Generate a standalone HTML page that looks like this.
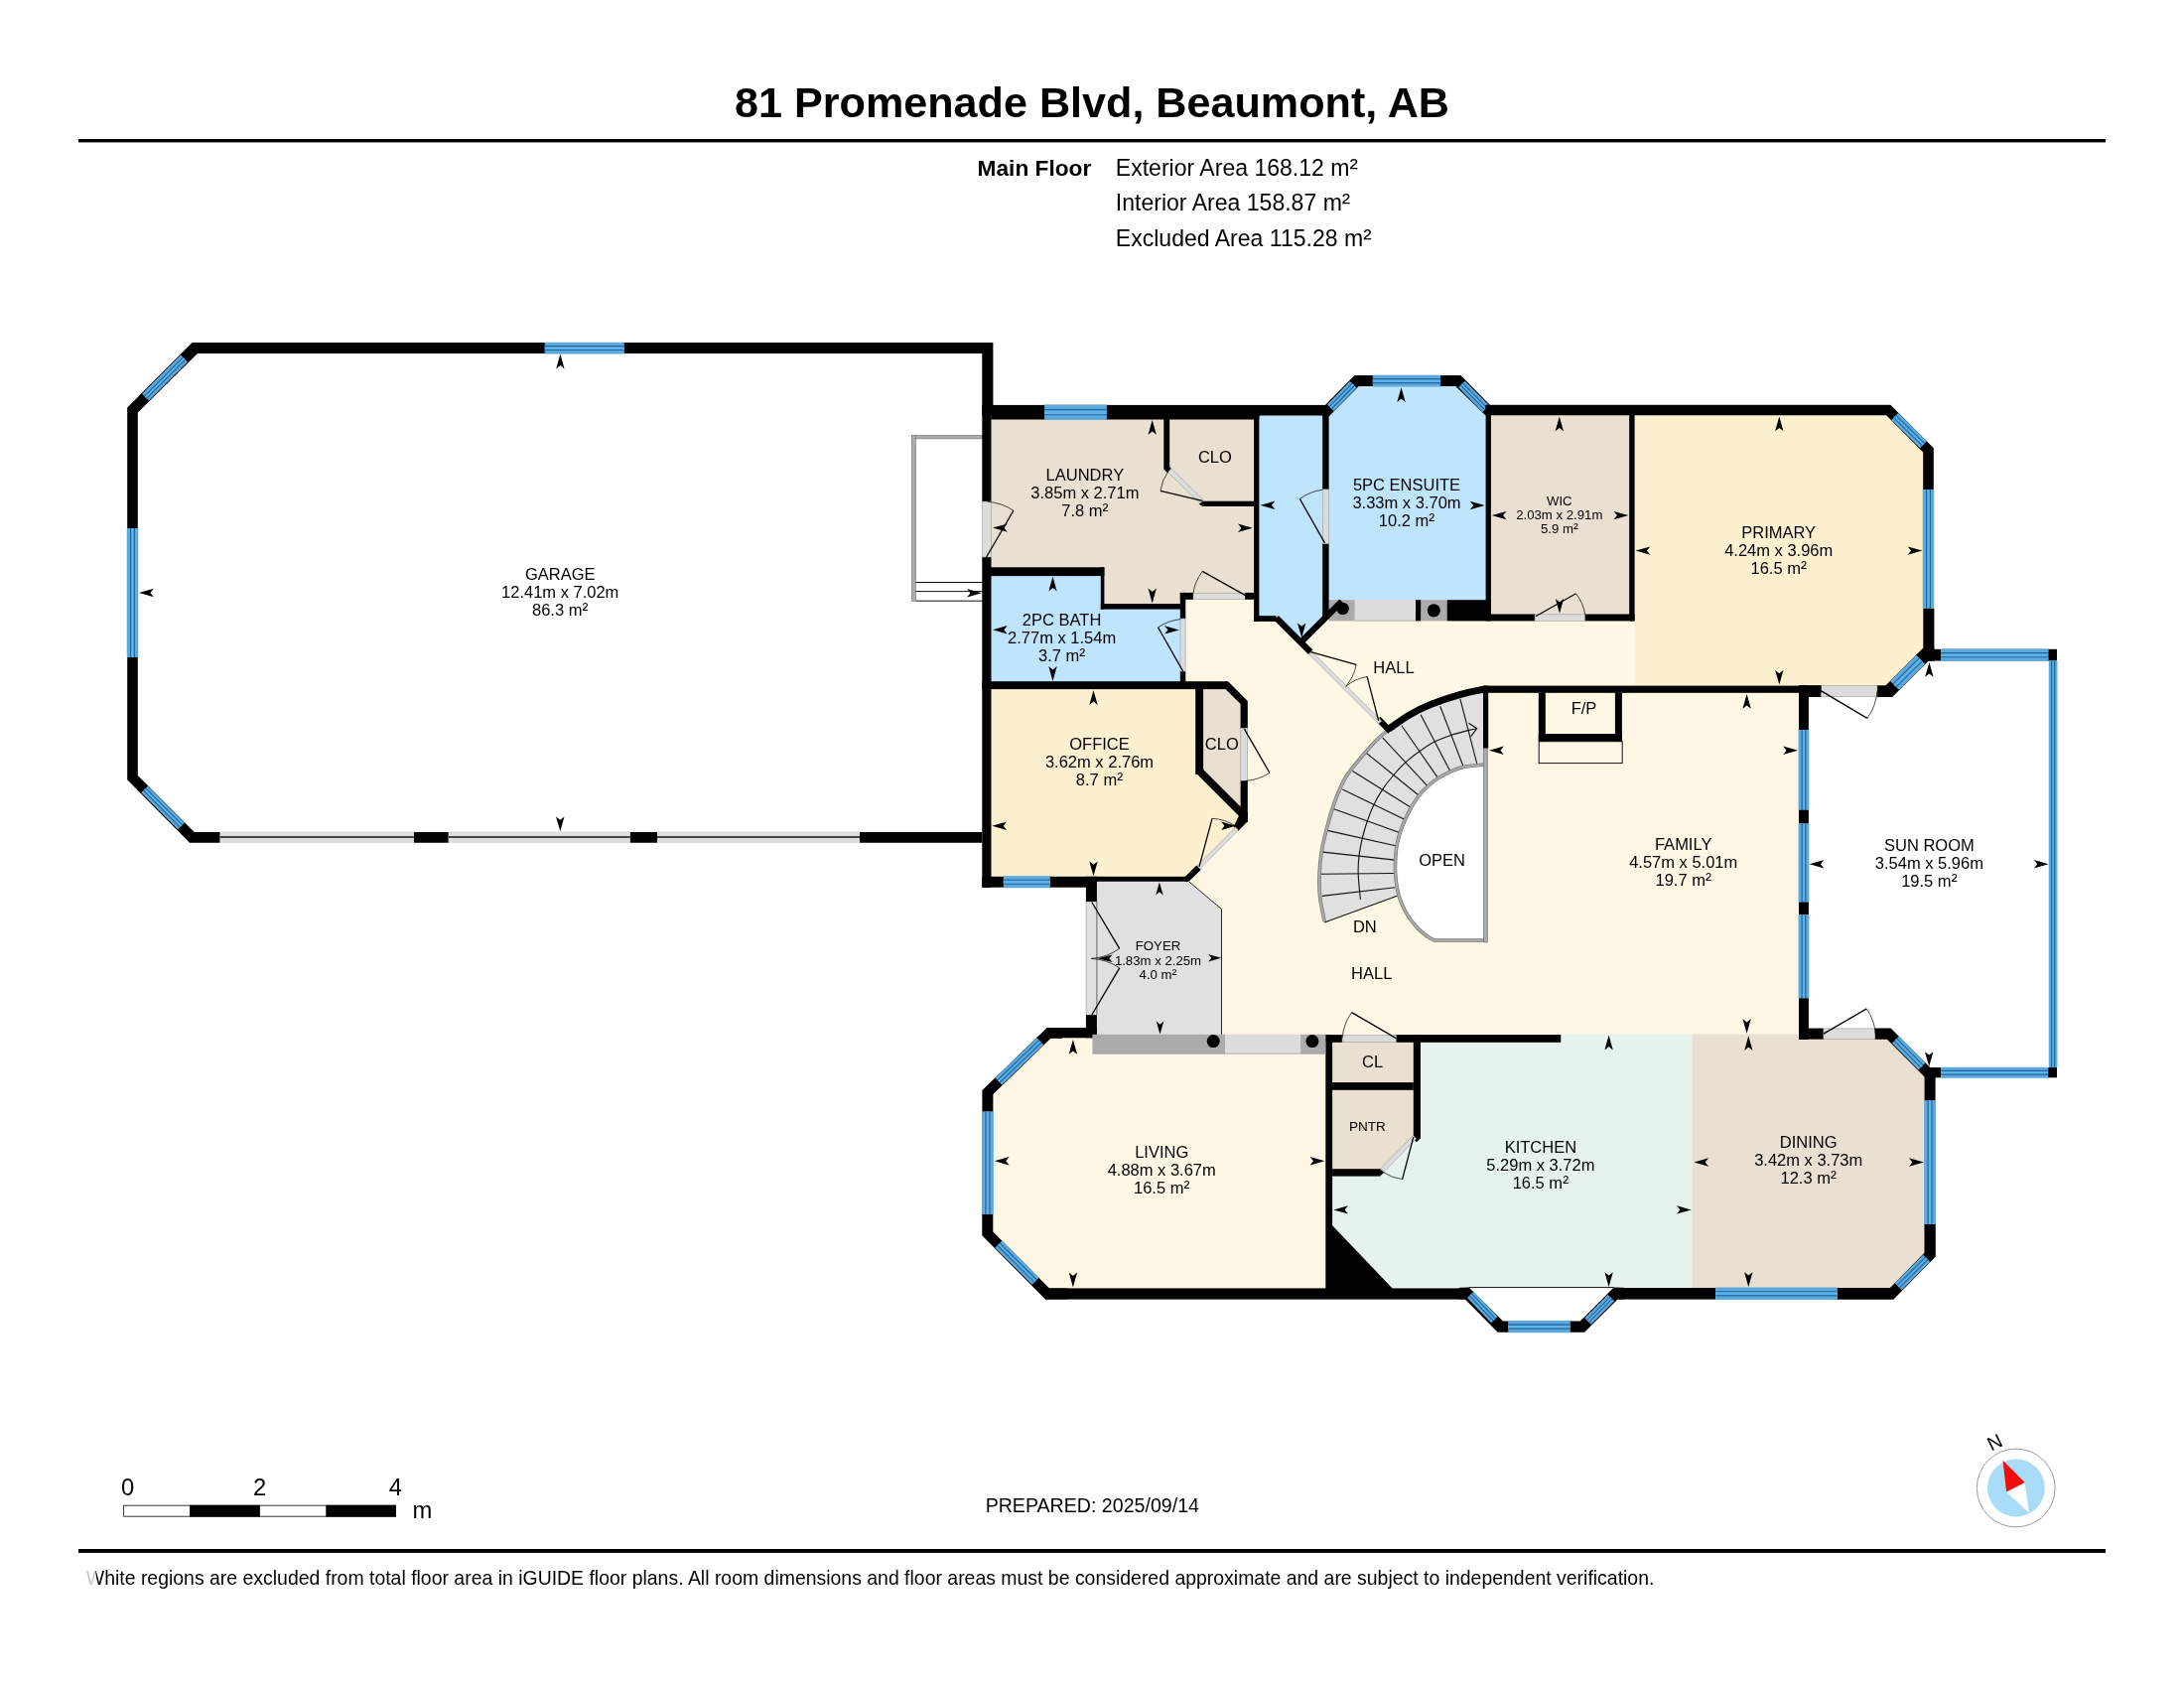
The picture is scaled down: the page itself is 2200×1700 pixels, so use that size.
<!DOCTYPE html>
<html lang="en">
<head>
<meta charset="utf-8">
<title>81 Promenade Blvd, Beaumont, AB - Main Floor</title>
<style>
html,body{margin:0;padding:0;background:#fff;}
body{width:2200px;height:1700px;overflow:hidden;font-family:"Liberation Sans",sans-serif;}
svg{display:block;position:absolute;left:0;top:0;will-change:transform;opacity:0.9999;}
svg text{font-family:"Liberation Sans",sans-serif;fill:#000;}
</style>
</head>
<body>
<svg width="2200" height="1700" viewBox="0 0 2200 1700">
<g id="header">
<text x="1100" y="117.9" font-size="43.15" text-anchor="middle" font-weight="bold">81 Promenade Blvd, Beaumont, AB</text>
<rect x="79" y="140" width="2042" height="3.4" fill="#000"/>
<text x="1099.3" y="176.6" font-size="22.7" text-anchor="end" font-weight="bold">Main Floor</text>
<text x="1123.8" y="176.6" font-size="23.05" text-anchor="start">Exterior Area 168.12 m<tspan font-size="109%">²</tspan></text>
<text x="1123.8" y="212" font-size="23.05" text-anchor="start">Interior Area 158.87 m<tspan font-size="109%">²</tspan></text>
<text x="1123.8" y="247.5" font-size="23.05" text-anchor="start">Excluded Area 115.28 m<tspan font-size="109%">²</tspan></text>
</g>
<g id="footer">
<rect x="79" y="1560" width="2042" height="3.9" fill="#000"/>
<text x="86.8" y="1595.5" font-size="19.46" text-anchor="start">White regions are excluded from total floor area in iGUIDE floor plans. All room dimensions and floor areas must be considered approximate and are subject to independent verification.</text>
<rect x="85" y="1578" width="11.5" height="20" fill="#fff" opacity="0.78"/>
<text x="1100.3" y="1523.2" font-size="19.6" text-anchor="middle">PREPARED: 2025/09/14</text>
<rect x="124.6" y="1516.2" width="273.9" height="11" fill="#fff" stroke="#222" stroke-width="0.9"/>
<rect x="191.1" y="1515.8" width="70.8" height="11.8" fill="#000"/>
<rect x="328.3" y="1515.8" width="70.6" height="11.8" fill="#000"/>
<text x="128.6" y="1505.5" font-size="23.8" text-anchor="middle">0</text>
<text x="261.5" y="1505.5" font-size="23.8" text-anchor="middle">2</text>
<text x="398.3" y="1505.5" font-size="23.8" text-anchor="middle">4</text>
<text x="425.5" y="1528.6" font-size="23.8" text-anchor="middle">m</text>
<circle cx="2030.75" cy="1498.5" r="39.4" fill="#fff" stroke="#9a9a9a" stroke-width="1"/>
<circle cx="2030.9" cy="1498.5" r="29" fill="#a9dcf9"/>
<polygon points="2021.1,1502.6 2039.6,1493 2043.9,1523.5" fill="#fff"/>
<polygon points="2017.5,1470.7 2039.6,1493 2021.1,1502.6" fill="#f20d0d"/>
<text x="0" y="0" font-size="19.5" text-anchor="middle" transform="translate(2012.3 1458.6) rotate(-26)">N</text>
</g>
<g id="fills">
<polygon points="1191.5,600 1646.6,600 1646.6,694 1816.5,694 1816.5,1041.5 1338.7,1041.5 1338.7,1303 1055,1303 995,1243 995,1099 1055,1040.5 1110,1040.5 1110,890 1197,886 1253,830 1253,707 1238.5,690 1191.5,690" fill="#fdf7e4"/>
<polygon points="994,413 1266,413 1266,601 1191,601 1191,611 1110.5,611 1110.5,576 994,576" fill="#e9e0d1"/>
<polygon points="994,576 1110.5,576 1110.5,611 1191.5,611 1191.5,690 994,690" fill="#bfe4fd"/>
<polygon points="1266,413 1335.5,413 1335.5,621 1310.5,647 1286,623 1266,623" fill="#bfe4fd"/>
<polygon points="1335.5,418.5 1366.5,384 1470,384 1499,413 1499,615 1335.5,615 1335.5,621 1330,621" fill="#bfe4fd"/>
<rect x="1499" y="413" width="145" height="209" fill="#e9e0d1"/>
<polygon points="1644,413 1902,413 1942.5,453.5 1942.5,659 1903,696 1646.6,696 1646.6,622 1644,622" fill="#fdf0d1"/>
<polygon points="994,690 1208,690 1208,779.5 1253,824.5 1253,830 1197,886 994,888" fill="#fdf0d1"/>
<polygon points="1208,690 1236,690 1253,707 1253,822 1208,777" fill="#e9e0d1"/>
<polygon points="1094,888 1197.6,887.8 1230.5,915.6 1230.5,1042 1094,1042" fill="#e0e0e0"/>
<polygon points="1427,1046 1572.3,1046 1572.3,1041.5 1704.5,1041.5 1704.5,1296.6 1400,1296.6 1339,1240 1339,1181 1392,1181 1427,1146" fill="#e6f3ec"/>
<polygon points="1704.5,1041.5 1816.5,1041.5 1903,1041.5 1944.5,1082 1944.5,1265 1906,1303 1704.5,1303" fill="#e9e0d1"/>
<rect x="1339" y="1046" width="88" height="48" fill="#e9e0d1"/>
<polygon points="1339,1094 1427,1094 1427,1146 1392,1181 1339,1181" fill="#e9e0d1"/>
</g>
<g id="stairs">
<path d="M1494.8 694.2 C1490.58 695.15 1478.45 697.33 1469.5 699.9 C1460.55 702.47 1449.38 706.25 1441.1 709.6 C1432.82 712.95 1426.83 715.9 1419.8 720 C1412.77 724.1 1404.78 729.62 1398.9 734.2 C1393.02 738.78 1389.2 742.67 1384.5 747.5 C1379.8 752.33 1375.23 757.78 1370.7 763.2 C1366.17 768.62 1360.7 775.02 1357.3 780 C1353.9 784.98 1352.65 787.9 1350.3 793.1 C1347.95 798.3 1345.47 804.48 1343.2 811.2 C1340.93 817.92 1338.7 825.67 1336.7 833.4 C1334.7 841.13 1332.47 849.72 1331.2 857.6 C1329.93 865.48 1329.37 873.15 1329.1 880.7 C1328.83 888.25 1328.75 895 1329.6 902.9 C1330.45 910.8 1333.43 923.9 1334.2 928.1 L1407.4 902 L1407.6 895.8 C1407.27 893.08 1405.93 884.37 1405.6 879.5 C1405.27 874.63 1405.33 871.43 1405.6 866.6 C1405.87 861.77 1406.18 855.87 1407.2 850.5 C1408.22 845.13 1409.77 839.77 1411.7 834.4 C1413.63 829.03 1416.1 823.5 1418.8 818.3 C1421.5 813.1 1424.72 807.53 1427.9 803.2 C1431.08 798.87 1434.52 795.48 1437.9 792.3 C1441.28 789.12 1444.42 786.58 1448.2 784.1 C1451.98 781.62 1456.33 779.35 1460.6 777.4 C1464.87 775.45 1468.07 773.62 1473.8 772.4 C1479.53 771.18 1491.47 770.48 1495 770.1 L1496 770 L1496 694 Z" fill="#e0e0e0" stroke="none" stroke-width="0"/>
<path d="M1495 770.1 C1491.47 770.48 1479.53 771.18 1473.8 772.4 C1468.07 773.62 1464.87 775.45 1460.6 777.4 C1456.33 779.35 1451.98 781.62 1448.2 784.1 C1444.42 786.58 1441.28 789.12 1437.9 792.3 C1434.52 795.48 1431.08 798.87 1427.9 803.2 C1424.72 807.53 1421.5 813.1 1418.8 818.3 C1416.1 823.5 1413.63 829.03 1411.7 834.4 C1409.77 839.77 1408.22 845.13 1407.2 850.5 C1406.18 855.87 1405.87 861.77 1405.6 866.6 C1405.33 871.43 1405.27 874.63 1405.6 879.5 C1405.93 884.37 1406.62 890.9 1407.6 895.8 C1408.58 900.7 1409.77 904.55 1411.5 908.9 C1413.23 913.25 1415.5 917.88 1418 921.9 C1420.5 925.92 1423.57 929.73 1426.5 933 C1429.43 936.27 1432.57 939.17 1435.6 941.5 C1438.63 943.83 1443.18 946.08 1444.7 947 L1496.4 947 L1496.4 770 Z" fill="#fff" stroke="none" stroke-width="0"/>
<line x1="1331.7" y1="902.4" x2="1405.2" y2="893.8" stroke="#111" stroke-width="1.1"/>
<line x1="1330.7" y1="880.2" x2="1404.7" y2="879.5" stroke="#111" stroke-width="1.1"/>
<line x1="1332.7" y1="858.1" x2="1405.2" y2="866.1" stroke="#111" stroke-width="1.1"/>
<line x1="1337.2" y1="836.4" x2="1406.7" y2="852" stroke="#111" stroke-width="1.1"/>
<line x1="1343.7" y1="814.8" x2="1409.7" y2="838.4" stroke="#111" stroke-width="1.1"/>
<line x1="1352.3" y1="795.1" x2="1414.8" y2="825.3" stroke="#111" stroke-width="1.1"/>
<line x1="1362.5" y1="776.5" x2="1421.3" y2="813.2" stroke="#111" stroke-width="1.1"/>
<line x1="1376.5" y1="758.5" x2="1429.4" y2="801.2" stroke="#111" stroke-width="1.1"/>
<line x1="1392.7" y1="742.9" x2="1437.9" y2="791.6" stroke="#111" stroke-width="1.1"/>
<line x1="1411.9" y1="730.8" x2="1448.2" y2="783.1" stroke="#111" stroke-width="1.1"/>
<line x1="1431.1" y1="719.8" x2="1460.6" y2="776.3" stroke="#111" stroke-width="1.1"/>
<line x1="1450.7" y1="711.3" x2="1473.8" y2="771.3" stroke="#111" stroke-width="1.1"/>
<line x1="1470.9" y1="703.8" x2="1487.7" y2="768.9" stroke="#111" stroke-width="1.1"/>
<path d="M1370.4 905.9 C1370.03 901.7 1368.45 887.92 1368.2 880.7 C1367.95 873.48 1368.18 868.8 1368.9 862.6 C1369.62 856.4 1371.07 849.55 1372.5 843.5 C1373.93 837.45 1375.58 831.85 1377.5 826.3 C1379.42 820.75 1381.48 815.4 1384 810.2 C1386.52 805 1389.37 799.97 1392.6 795.1 C1395.83 790.23 1399.58 785.48 1403.4 781 C1407.22 776.52 1411.12 772.23 1415.5 768.2 C1419.88 764.17 1424.72 760.37 1429.7 756.8 C1434.68 753.23 1440.07 749.53 1445.4 746.8 C1450.73 744.07 1456.02 742.3 1461.7 740.4 C1467.38 738.5 1475.17 736.52 1479.5 735.4 C1483.83 734.28 1486.33 733.98 1487.7 733.7" fill="none" stroke="#111" stroke-width="1.1"/>
<path d="M1479.5 728.3 L1487.7 733.7 L1481.6 741.8" fill="none" stroke="#111" stroke-width="1.1"/>
<path d="M1398.9 734.2 C1396.5 736.42 1389.2 742.67 1384.5 747.5 C1379.8 752.33 1375.23 757.78 1370.7 763.2 C1366.17 768.62 1360.7 775.02 1357.3 780 C1353.9 784.98 1352.65 787.9 1350.3 793.1 C1347.95 798.3 1345.47 804.48 1343.2 811.2 C1340.93 817.92 1338.7 825.67 1336.7 833.4 C1334.7 841.13 1332.47 849.72 1331.2 857.6 C1329.93 865.48 1329.37 873.15 1329.1 880.7 C1328.83 888.25 1328.75 895 1329.6 902.9 C1330.45 910.8 1333.43 923.9 1334.2 928.1" fill="none" stroke="#6e6e6e" stroke-width="3.6"/>
<path d="M1398.9 734.2 C1396.5 736.42 1389.2 742.67 1384.5 747.5 C1379.8 752.33 1375.23 757.78 1370.7 763.2 C1366.17 768.62 1360.7 775.02 1357.3 780 C1353.9 784.98 1352.65 787.9 1350.3 793.1 C1347.95 798.3 1345.47 804.48 1343.2 811.2 C1340.93 817.92 1338.7 825.67 1336.7 833.4 C1334.7 841.13 1332.47 849.72 1331.2 857.6 C1329.93 865.48 1329.37 873.15 1329.1 880.7 C1328.83 888.25 1328.75 895 1329.6 902.9 C1330.45 910.8 1333.43 923.9 1334.2 928.1" fill="none" stroke="#a9a9a7" stroke-width="2.4"/>
<path d="M1495 770.1 C1491.47 770.48 1479.53 771.18 1473.8 772.4 C1468.07 773.62 1464.87 775.45 1460.6 777.4 C1456.33 779.35 1451.98 781.62 1448.2 784.1 C1444.42 786.58 1441.28 789.12 1437.9 792.3 C1434.52 795.48 1431.08 798.87 1427.9 803.2 C1424.72 807.53 1421.5 813.1 1418.8 818.3 C1416.1 823.5 1413.63 829.03 1411.7 834.4 C1409.77 839.77 1408.22 845.13 1407.2 850.5 C1406.18 855.87 1405.87 861.77 1405.6 866.6 C1405.33 871.43 1405.27 874.63 1405.6 879.5 C1405.93 884.37 1406.62 890.9 1407.6 895.8 C1408.58 900.7 1409.77 904.55 1411.5 908.9 C1413.23 913.25 1415.5 917.88 1418 921.9 C1420.5 925.92 1423.57 929.73 1426.5 933 C1429.43 936.27 1432.57 939.17 1435.6 941.5 C1438.63 943.83 1443.18 946.08 1444.7 947 L1496.4 947" fill="none" stroke="#6e6e6e" stroke-width="3.6"/>
<path d="M1495 770.1 C1491.47 770.48 1479.53 771.18 1473.8 772.4 C1468.07 773.62 1464.87 775.45 1460.6 777.4 C1456.33 779.35 1451.98 781.62 1448.2 784.1 C1444.42 786.58 1441.28 789.12 1437.9 792.3 C1434.52 795.48 1431.08 798.87 1427.9 803.2 C1424.72 807.53 1421.5 813.1 1418.8 818.3 C1416.1 823.5 1413.63 829.03 1411.7 834.4 C1409.77 839.77 1408.22 845.13 1407.2 850.5 C1406.18 855.87 1405.87 861.77 1405.6 866.6 C1405.33 871.43 1405.27 874.63 1405.6 879.5 C1405.93 884.37 1406.62 890.9 1407.6 895.8 C1408.58 900.7 1409.77 904.55 1411.5 908.9 C1413.23 913.25 1415.5 917.88 1418 921.9 C1420.5 925.92 1423.57 929.73 1426.5 933 C1429.43 936.27 1432.57 939.17 1435.6 941.5 C1438.63 943.83 1443.18 946.08 1444.7 947 L1496.4 947" fill="none" stroke="#a9a9a7" stroke-width="2.4"/>
<line x1="1334.2" y1="929.1" x2="1407.4" y2="902.2" stroke="#111" stroke-width="1.1"/>
<rect x="1494.4" y="753" width="4" height="196" fill="#a9a9a7" stroke="#6e6e6e" stroke-width="0.6"/>
<path d="M1494.8 694.2 C1490.58 695.15 1478.45 697.33 1469.5 699.9 C1460.55 702.47 1449.38 706.25 1441.1 709.6 C1432.82 712.95 1426.83 715.9 1419.8 720 C1412.77 724.1 1402.38 731.83 1398.9 734.2" fill="none" stroke="#000" stroke-width="7"/>
<polygon points="1385.96,725.95 1398.26,738.75 1402.74,734.45 1390.44,721.65" fill="#000"/>
</g>
<g id="garage">
<rect x="918.4" y="438.4" width="71.1" height="3.5" fill="#ababab" stroke="#777" stroke-width="0.6"/>
<rect x="918.4" y="438.4" width="4.1" height="167.1" fill="#ababab" stroke="#777" stroke-width="0.6"/>
<line x1="922.5" y1="586.5" x2="989.5" y2="586.5" stroke="#111" stroke-width="1"/>
<line x1="922.5" y1="595.6" x2="989.5" y2="595.6" stroke="#111" stroke-width="1"/>
<line x1="922.5" y1="605.2" x2="989.5" y2="605.2" stroke="#111" stroke-width="1"/>
<polygon points="193.5,345.1 1000.4,345.1 1000.4,408.1 989.3,408.1 989.3,356 199,356 138.8,415.5 138.8,780.9 195.7,837.9 989.3,837.9 989.3,848.8 191,848.8 128.2,785.3 128.2,410.6" fill="#000"/>
<polygon points="548.7,356.45 628.8,356.45 628.8,344.65 548.7,344.65" fill="#5ea9dc"/>
<polygon points="548.7,352.52 628.8,352.52 628.8,348.58 548.7,348.58" fill="#5fb1e8"/>
<line x1="548.7" y1="348.58" x2="628.8" y2="348.58" stroke="#1c659e" stroke-width="1.15"/>
<line x1="548.7" y1="352.52" x2="628.8" y2="352.52" stroke="#1c659e" stroke-width="1.15"/>
<polygon points="127.75,532 127.75,662 139.25,662 139.25,532" fill="#5ea9dc"/>
<polygon points="131.58,532 131.58,662 135.42,662 135.42,532" fill="#5fb1e8"/>
<line x1="135.42" y1="532" x2="135.42" y2="662" stroke="#1c659e" stroke-width="1.15"/>
<line x1="131.58" y1="532" x2="131.58" y2="662" stroke="#1c659e" stroke-width="1.15"/>
<polygon points="182.1,357.61 143.1,396.81 149.9,403.59 188.9,364.39" fill="#5ea9dc"/>
<polygon points="184.37,359.87 145.37,399.07 147.63,401.33 186.63,362.13" fill="#5fb1e8"/>
<line x1="186.63" y1="362.13" x2="147.63" y2="401.33" stroke="#1c659e" stroke-width="1.15"/>
<line x1="184.37" y1="359.87" x2="145.37" y2="399.07" stroke="#1c659e" stroke-width="1.15"/>
<polygon points="142.37,798.32 179.22,835.32 185.88,828.68 149.03,791.68" fill="#5ea9dc"/>
<polygon points="144.59,796.11 181.44,833.11 183.66,830.89 146.81,793.89" fill="#5fb1e8"/>
<line x1="146.81" y1="793.89" x2="183.66" y2="830.89" stroke="#1c659e" stroke-width="1.15"/>
<line x1="144.59" y1="796.11" x2="181.44" y2="833.11" stroke="#1c659e" stroke-width="1.15"/>
<rect x="221.7" y="837" width="195.2" height="12.2" fill="#fff"/>
<rect x="221.7" y="837.4" width="195.2" height="11.6" fill="#dedede"/>
<line x1="221.7" y1="843" x2="416.9" y2="843" stroke="#111" stroke-width="1.7"/>
<rect x="451.8" y="837" width="182.8" height="12.2" fill="#fff"/>
<rect x="451.8" y="837.4" width="182.8" height="11.6" fill="#dedede"/>
<line x1="451.8" y1="843" x2="634.6" y2="843" stroke="#111" stroke-width="1.7"/>
<rect x="662" y="837" width="204" height="12.2" fill="#fff"/>
<rect x="662" y="837.4" width="204" height="11.6" fill="#dedede"/>
<line x1="662" y1="843" x2="866" y2="843" stroke="#111" stroke-width="1.7"/>
</g>
<g id="walls">
<rect x="989.3" y="408.1" width="9.2" height="97" fill="#000"/>
<rect x="989.3" y="561" width="9.2" height="333" fill="#000"/>
<rect x="989.5" y="505.1" width="8.8" height="55.9" fill="#dcdcdc" stroke="#9a9a9a" stroke-width="0.6"/>
<rect x="989.3" y="407.9" width="349.3" height="10.6" fill="#000"/>
<rect x="998.3" y="412" width="270.1" height="10.5" fill="#000"/>
<polygon points="1052.1,422.95 1114.9,422.95 1114.9,407.45 1052.1,407.45" fill="#5ea9dc"/>
<polygon points="1052.1,417.78 1114.9,417.78 1114.9,412.62 1052.1,412.62" fill="#5fb1e8"/>
<line x1="1052.1" y1="412.62" x2="1114.9" y2="412.62" stroke="#1c659e" stroke-width="1.15"/>
<line x1="1052.1" y1="417.78" x2="1114.9" y2="417.78" stroke="#1c659e" stroke-width="1.15"/>
<rect x="1172.3" y="422" width="5.9" height="48.5" fill="#000"/>
<polygon points="1172.3,470 1178.2,470 1180.2,472.2 1176.2,476.2 1172.3,472.6" fill="#000"/>
<rect x="1211.2" y="504.7" width="52" height="5.3" fill="#000"/>
<polygon points="1211.4,504.7 1207.6,507.4 1211.4,510" fill="#000"/>
<polygon points="1176.45,475.38 1208.65,506.98 1212.15,503.42 1179.95,471.82" fill="#dcdcdc" stroke="#9a9a9a" stroke-width="0.6"/>
<rect x="1338.6" y="604.2" width="26.2" height="21.2" fill="#ababab"/>
<rect x="1364.8" y="604.2" width="61.2" height="21.2" fill="#dcdcdc"/>
<line x1="1364.8" y1="625.1" x2="1426" y2="625.1" stroke="#9a9a9a" stroke-width="0.7"/>
<rect x="1426" y="604.2" width="5.5" height="21.2" fill="#000"/>
<rect x="1431.5" y="604.2" width="26.2" height="21.2" fill="#ababab"/>
<rect x="1457.7" y="604.2" width="44.2" height="21.2" fill="#000"/>
<circle cx="1352.6" cy="613" r="6.2" fill="#000"/>
<circle cx="1444.3" cy="614.8" r="6.6" fill="#000"/>
<rect x="1263.1" y="418" width="5.3" height="207.9" fill="#000"/>
<rect x="1263.1" y="620.2" width="22.4" height="5.7" fill="#000"/>
<polygon points="1283.34,624.46 1317.94,659.06 1322.46,654.54 1287.86,619.94" fill="#000"/>
<polygon points="1349.34,603.39 1307.94,644.79 1312.46,649.31 1353.86,607.91" fill="#000"/>
<rect x="1332.2" y="418" width="6.4" height="74.9" fill="#000"/>
<rect x="1332.2" y="547.4" width="6.4" height="74.6" fill="#000"/>
<rect x="1332.4" y="492.9" width="6" height="54.5" fill="#dcdcdc" stroke="#9a9a9a" stroke-width="0.6"/>
<rect x="1188.8" y="596.9" width="13.2" height="6.9" fill="#000"/>
<rect x="1202" y="597.2" width="52.2" height="6.4" fill="#dcdcdc" stroke="#9a9a9a" stroke-width="0.6"/>
<rect x="1254.2" y="596.9" width="9.3" height="6.9" fill="#000"/>
<rect x="1188.8" y="596.9" width="5.5" height="26.1" fill="#000"/>
<rect x="1189" y="623" width="5.1" height="53.3" fill="#dcdcdc" stroke="#9a9a9a" stroke-width="0.6"/>
<rect x="1188.8" y="676.3" width="5.5" height="10.7" fill="#000"/>
<rect x="998" y="571.3" width="114.4" height="8.8" fill="#000"/>
<rect x="1108.8" y="571.3" width="3.6" height="42.3" fill="#000"/>
<rect x="1108.8" y="608.1" width="80.7" height="5.5" fill="#000"/>
<rect x="989.3" y="686.2" width="246.7" height="7.9" fill="#000"/>
<polygon points="1234.5,686.2 1237.1,686.2 1256.8,706 1256.8,733.5 1249.6,733.5 1249.6,708.9 1234.5,694.1" fill="#000"/>
<rect x="1249.8" y="733.5" width="6.8" height="52.9" fill="#dcdcdc" stroke="#9a9a9a" stroke-width="0.6"/>
<rect x="1249.6" y="786.4" width="7.2" height="40.8" fill="#000"/>
<polygon points="1249.6,818 1256.8,818 1256.8,827.2 1247.2,837 1242.8,832.6" fill="#000"/>
<rect x="1204.2" y="694" width="7.9" height="86" fill="#000"/>
<polygon points="1205.44,779.26 1250.44,824.26 1255.96,818.74 1210.96,773.74" fill="#000"/>
<polygon points="1244.51,833.02 1205.51,872.32 1208.49,875.28 1247.49,835.98" fill="#dcdcdc" stroke="#9a9a9a" stroke-width="0.6"/>
<polygon points="1194,882.8 1205.3,871.6 1209.6,875.9 1197.6,887.8 1194,887.8" fill="#000"/>
<rect x="989.3" y="882.8" width="104.7" height="10.9" fill="#000"/>
<polygon points="1010.8,894.15 1057.8,894.15 1057.8,882.35 1010.8,882.35" fill="#5ea9dc"/>
<polygon points="1010.8,890.22 1057.8,890.22 1057.8,886.28 1010.8,886.28" fill="#5fb1e8"/>
<line x1="1010.8" y1="886.28" x2="1057.8" y2="886.28" stroke="#1c659e" stroke-width="1.15"/>
<line x1="1010.8" y1="890.22" x2="1057.8" y2="890.22" stroke="#1c659e" stroke-width="1.15"/>
<rect x="1093.9" y="882.8" width="102.7" height="5" fill="#000"/>
<rect x="1093.9" y="882.8" width="11" height="25.3" fill="#000"/>
<rect x="1093.9" y="1022.2" width="11" height="23.1" fill="#000"/>
<rect x="1054.2" y="1035" width="50.7" height="10.3" fill="#000"/>
</g>
<g id="walls2">
<polygon points="1334.7,408.3 1364.5,378.1 1471.4,378.1 1501,408 1502,408 1502,418.3 1496.3,418.3 1466.3,389.1 1368.7,389.1 1338.6,419.5 1332.2,418.5" fill="#000"/>
<polygon points="1382.8,389.55 1451.1,389.55 1451.1,377.65 1382.8,377.65" fill="#5ea9dc"/>
<polygon points="1382.8,385.58 1451.1,385.58 1451.1,381.62 1382.8,381.62" fill="#5fb1e8"/>
<line x1="1382.8" y1="381.62" x2="1451.1" y2="381.62" stroke="#1c659e" stroke-width="1.15"/>
<line x1="1382.8" y1="385.58" x2="1451.1" y2="385.58" stroke="#1c659e" stroke-width="1.15"/>
<polygon points="1343.59,413.91 1366.49,390.41 1359.91,383.99 1337.01,407.49" fill="#5ea9dc"/>
<polygon points="1341.4,411.77 1364.3,388.27 1362.1,386.13 1339.2,409.63" fill="#5fb1e8"/>
<line x1="1339.2" y1="409.63" x2="1362.1" y2="386.13" stroke="#1c659e" stroke-width="1.15"/>
<line x1="1341.4" y1="411.77" x2="1364.3" y2="388.27" stroke="#1c659e" stroke-width="1.15"/>
<polygon points="1469.15,390.08 1493.45,414.88 1499.95,408.52 1475.65,383.72" fill="#5ea9dc"/>
<polygon points="1471.32,387.96 1495.62,412.76 1497.78,410.64 1473.48,385.84" fill="#5fb1e8"/>
<line x1="1473.48" y1="385.84" x2="1497.78" y2="410.64" stroke="#1c659e" stroke-width="1.15"/>
<line x1="1471.32" y1="387.96" x2="1495.62" y2="412.76" stroke="#1c659e" stroke-width="1.15"/>
<rect x="1496.6" y="408" width="5.3" height="217.4" fill="#000"/>
<rect x="1501.8" y="618.5" width="44.3" height="6.9" fill="#000"/>
<rect x="1546.1" y="618.8" width="50.6" height="6.4" fill="#dcdcdc" stroke="#9a9a9a" stroke-width="0.6"/>
<rect x="1596.7" y="618.5" width="49.9" height="6.9" fill="#000"/>
<rect x="1641.2" y="418" width="5.4" height="207.4" fill="#000"/>
<polygon points="1496.6,407.8 1904.4,407.8 1947.8,451.2 1947.8,493 1937.2,493 1937.2,455.4 1900.1,418.3 1496.6,418.3" fill="#000"/>
<polygon points="1905.25,422.91 1934.1,451.21 1940.9,444.29 1912.05,415.99" fill="#5ea9dc"/>
<polygon points="1907.52,420.6 1936.37,448.9 1938.63,446.6 1909.78,418.3" fill="#5fb1e8"/>
<line x1="1909.78" y1="418.3" x2="1938.63" y2="446.6" stroke="#1c659e" stroke-width="1.15"/>
<line x1="1907.52" y1="420.6" x2="1936.37" y2="448.9" stroke="#1c659e" stroke-width="1.15"/>
<polygon points="1936.75,493 1936.75,612.8 1948.25,612.8 1948.25,493" fill="#5ea9dc"/>
<polygon points="1940.58,493 1940.58,612.8 1944.42,612.8 1944.42,493" fill="#5fb1e8"/>
<line x1="1944.42" y1="493" x2="1944.42" y2="612.8" stroke="#1c659e" stroke-width="1.15"/>
<line x1="1940.58" y1="493" x2="1940.58" y2="612.8" stroke="#1c659e" stroke-width="1.15"/>
<rect x="1937.3" y="612.8" width="11.1" height="52.7" fill="#000"/>
<polygon points="1937.3,652.4 1948.4,652.4 1948.4,665.5 1942.7,665.5 1906.2,702 1890.9,702 1890.9,690.2 1899.55,690.2" fill="#000"/>
<polygon points="1930.25,659.84 1904.05,685.94 1912.95,694.86 1939.15,668.76" fill="#5ea9dc"/>
<polygon points="1933.22,662.81 1907.02,688.91 1909.98,691.89 1936.18,665.79" fill="#5fb1e8"/>
<line x1="1936.18" y1="665.79" x2="1909.98" y2="691.89" stroke="#1c659e" stroke-width="1.15"/>
<line x1="1933.22" y1="662.81" x2="1907.02" y2="688.91" stroke="#1c659e" stroke-width="1.15"/>
<rect x="1812" y="690.2" width="22.6" height="11.8" fill="#000"/>
<rect x="1834.6" y="690.5" width="56.3" height="11.2" fill="#dcdcdc" stroke="#9a9a9a" stroke-width="0.6"/>
<rect x="1937.3" y="653.8" width="17.8" height="11.7" fill="#000"/>
<polygon points="1955.1,665.95 2063.4,665.95 2063.4,653.35 1955.1,653.35" fill="#5ea9dc"/>
<polygon points="1955.1,661.75 2063.4,661.75 2063.4,657.55 1955.1,657.55" fill="#5fb1e8"/>
<line x1="1955.1" y1="657.55" x2="2063.4" y2="657.55" stroke="#1c659e" stroke-width="1.15"/>
<line x1="1955.1" y1="661.75" x2="2063.4" y2="661.75" stroke="#1c659e" stroke-width="1.15"/>
<rect x="2063.4" y="653.8" width="8.6" height="11.7" fill="#000"/>
<polygon points="2063.75,665.4 2063.75,1075 2072.45,1075 2072.45,665.4" fill="#5ea9dc"/>
<polygon points="2066.65,665.4 2066.65,1075 2069.55,1075 2069.55,665.4" fill="#5fb1e8"/>
<line x1="2069.55" y1="665.4" x2="2069.55" y2="1075" stroke="#1c659e" stroke-width="1.15"/>
<line x1="2066.65" y1="665.4" x2="2066.65" y2="1075" stroke="#1c659e" stroke-width="1.15"/>
<rect x="1938.6" y="1075.1" width="16.5" height="10.2" fill="#000"/>
<polygon points="1955.1,1085.75 2063.2,1085.75 2063.2,1074.65 1955.1,1074.65" fill="#5ea9dc"/>
<polygon points="1955.1,1082.05 2063.2,1082.05 2063.2,1078.35 1955.1,1078.35" fill="#5fb1e8"/>
<line x1="1955.1" y1="1078.35" x2="2063.2" y2="1078.35" stroke="#1c659e" stroke-width="1.15"/>
<line x1="1955.1" y1="1082.05" x2="2063.2" y2="1082.05" stroke="#1c659e" stroke-width="1.15"/>
<rect x="2063.2" y="1075.1" width="8.8" height="10.2" fill="#000"/>
<rect x="1494" y="690.6" width="340.6" height="7.2" fill="#000"/>
<rect x="1812" y="690" width="9.9" height="45" fill="#000"/>
<polygon points="1811.55,735 1811.55,815.7 1822.35,815.7 1822.35,735" fill="#5ea9dc"/>
<polygon points="1815.15,735 1815.15,815.7 1818.75,815.7 1818.75,735" fill="#5fb1e8"/>
<line x1="1818.75" y1="735" x2="1818.75" y2="815.7" stroke="#1c659e" stroke-width="1.15"/>
<line x1="1815.15" y1="735" x2="1815.15" y2="815.7" stroke="#1c659e" stroke-width="1.15"/>
<rect x="1812" y="815.7" width="9.9" height="13.9" fill="#000"/>
<polygon points="1811.55,829.6 1811.55,908.5 1822.35,908.5 1822.35,829.6" fill="#5ea9dc"/>
<polygon points="1815.15,829.6 1815.15,908.5 1818.75,908.5 1818.75,829.6" fill="#5fb1e8"/>
<line x1="1818.75" y1="829.6" x2="1818.75" y2="908.5" stroke="#1c659e" stroke-width="1.15"/>
<line x1="1815.15" y1="829.6" x2="1815.15" y2="908.5" stroke="#1c659e" stroke-width="1.15"/>
<rect x="1812" y="908.5" width="9.9" height="12.8" fill="#000"/>
<polygon points="1811.55,921.3 1811.55,1005.3 1822.35,1005.3 1822.35,921.3" fill="#5ea9dc"/>
<polygon points="1815.15,921.3 1815.15,1005.3 1818.75,1005.3 1818.75,921.3" fill="#5fb1e8"/>
<line x1="1818.75" y1="921.3" x2="1818.75" y2="1005.3" stroke="#1c659e" stroke-width="1.15"/>
<line x1="1815.15" y1="921.3" x2="1815.15" y2="1005.3" stroke="#1c659e" stroke-width="1.15"/>
<rect x="1812" y="1005.3" width="9.9" height="41.5" fill="#000"/>
<rect x="1812" y="1035.55" width="24.9" height="11.1" fill="#000"/>
<rect x="1836.9" y="1035.9" width="52" height="10.5" fill="#dcdcdc" stroke="#9a9a9a" stroke-width="0.6"/>
<polygon points="1888.9,1035.55 1904.65,1035.55 1944.2,1075.1 1949.6,1075.1 1949.6,1108.6 1938.6,1108.6 1938.6,1084.4 1900.9,1046.65 1888.9,1046.65" fill="#000"/>
<polygon points="1906.04,1050.4 1932.54,1077.4 1939.46,1070.6 1912.96,1043.6" fill="#5ea9dc"/>
<polygon points="1908.35,1048.13 1934.85,1075.13 1937.15,1072.87 1910.65,1045.87" fill="#5fb1e8"/>
<line x1="1910.65" y1="1045.87" x2="1937.15" y2="1072.87" stroke="#1c659e" stroke-width="1.15"/>
<line x1="1908.35" y1="1048.13" x2="1934.85" y2="1075.13" stroke="#1c659e" stroke-width="1.15"/>
<polygon points="1938.15,1108.6 1938.15,1232.9 1950.05,1232.9 1950.05,1108.6" fill="#5ea9dc"/>
<polygon points="1942.12,1108.6 1942.12,1232.9 1946.08,1232.9 1946.08,1108.6" fill="#5fb1e8"/>
<line x1="1946.08" y1="1108.6" x2="1946.08" y2="1232.9" stroke="#1c659e" stroke-width="1.15"/>
<line x1="1942.12" y1="1108.6" x2="1942.12" y2="1232.9" stroke="#1c659e" stroke-width="1.15"/>
<polygon points="1938.5,1232.9 1949.8,1232.9 1949.8,1265.5 1907.3,1308.7 1850.5,1308.7 1850.5,1296.9 1904,1296.9 1938.5,1261.7" fill="#000"/>
<polygon points="1937.32,1263.77 1908.77,1292.32 1915.63,1299.18 1944.18,1270.63" fill="#5ea9dc"/>
<polygon points="1939.61,1266.06 1911.06,1294.61 1913.34,1296.89 1941.89,1268.34" fill="#5fb1e8"/>
<line x1="1941.89" y1="1268.34" x2="1913.34" y2="1296.89" stroke="#1c659e" stroke-width="1.15"/>
<line x1="1939.61" y1="1266.06" x2="1911.06" y2="1294.61" stroke="#1c659e" stroke-width="1.15"/>
<rect x="1630" y="1297" width="98.3" height="11.6" fill="#000"/>
<polygon points="1728.3,1309.05 1850.5,1309.05 1850.5,1296.55 1728.3,1296.55" fill="#5ea9dc"/>
<polygon points="1728.3,1304.88 1850.5,1304.88 1850.5,1300.72 1728.3,1300.72" fill="#5fb1e8"/>
<line x1="1728.3" y1="1300.72" x2="1850.5" y2="1300.72" stroke="#1c659e" stroke-width="1.15"/>
<line x1="1728.3" y1="1304.88" x2="1850.5" y2="1304.88" stroke="#1c659e" stroke-width="1.15"/>
<rect x="1053" y="1297.4" width="423" height="11.2" fill="#000"/>
<line x1="1479.6" y1="1296.6" x2="1625.7" y2="1296.6" stroke="#111" stroke-width="1"/>
<polygon points="1470,1296.8 1479.6,1296.6 1513.9,1330.5 1591.8,1330.5 1625.7,1296.6 1636,1296.8 1636,1308.6 1629.6,1308.6 1596.1,1341.8 1508.7,1341.8 1475.7,1308.6 1470,1308.6" fill="#000"/>
<polygon points="1519.2,1342.25 1581.8,1342.25 1581.8,1330.05 1519.2,1330.05" fill="#5ea9dc"/>
<polygon points="1519.2,1338.18 1581.8,1338.18 1581.8,1334.12 1519.2,1334.12" fill="#5fb1e8"/>
<line x1="1519.2" y1="1334.12" x2="1581.8" y2="1334.12" stroke="#1c659e" stroke-width="1.15"/>
<line x1="1519.2" y1="1338.18" x2="1581.8" y2="1338.18" stroke="#1c659e" stroke-width="1.15"/>
<polygon points="1478.04,1307 1502.04,1332.3 1508.56,1326.1 1484.56,1300.8" fill="#5ea9dc"/>
<polygon points="1480.21,1304.93 1504.21,1330.23 1506.39,1328.17 1482.39,1302.87" fill="#5fb1e8"/>
<line x1="1482.39" y1="1302.87" x2="1506.39" y2="1328.17" stroke="#1c659e" stroke-width="1.15"/>
<line x1="1480.21" y1="1304.93" x2="1504.21" y2="1330.23" stroke="#1c659e" stroke-width="1.15"/>
<polygon points="1619.7,1303.93 1596.4,1327.43 1602.8,1333.77 1626.1,1310.27" fill="#5ea9dc"/>
<polygon points="1621.83,1306.04 1598.53,1329.54 1600.67,1331.66 1623.97,1308.16" fill="#5fb1e8"/>
<line x1="1623.97" y1="1308.16" x2="1600.67" y2="1331.66" stroke="#1c659e" stroke-width="1.15"/>
<line x1="1621.83" y1="1306.04" x2="1598.53" y2="1329.54" stroke="#1c659e" stroke-width="1.15"/>
<polygon points="1054.7,1035 1070,1035 1070,1045.8 1058.4,1045.8 1000.4,1102.1 1000.4,1119.8 989.4,1119.8 989.4,1098" fill="#000"/>
<polygon points="1044.44,1045.35 1002.54,1085.5 1009.26,1092.5 1051.16,1052.35" fill="#5ea9dc"/>
<polygon points="1046.68,1047.68 1004.78,1087.83 1007.02,1090.17 1048.92,1050.02" fill="#5fb1e8"/>
<line x1="1048.92" y1="1050.02" x2="1007.02" y2="1090.17" stroke="#1c659e" stroke-width="1.15"/>
<line x1="1046.68" y1="1047.68" x2="1004.78" y2="1087.83" stroke="#1c659e" stroke-width="1.15"/>
<polygon points="988.95,1119.6 988.95,1223 1000.85,1223 1000.85,1119.6" fill="#5ea9dc"/>
<polygon points="992.92,1119.6 992.92,1223 996.88,1223 996.88,1119.6" fill="#5fb1e8"/>
<line x1="996.88" y1="1119.6" x2="996.88" y2="1223" stroke="#1c659e" stroke-width="1.15"/>
<line x1="992.92" y1="1119.6" x2="992.92" y2="1223" stroke="#1c659e" stroke-width="1.15"/>
<polygon points="989.3,1223 1000.3,1223 1000.3,1240.6 1057.1,1297.4 1075,1297.4 1075,1308.6 1053,1308.6 989.3,1244.3" fill="#000"/>
<polygon points="1002.45,1256.58 1039.75,1293.63 1046.65,1286.67 1009.35,1249.62" fill="#5ea9dc"/>
<polygon points="1004.75,1254.26 1042.05,1291.31 1044.35,1288.99 1007.05,1251.94" fill="#5fb1e8"/>
<line x1="1007.05" y1="1251.94" x2="1044.35" y2="1288.99" stroke="#1c659e" stroke-width="1.15"/>
<line x1="1004.75" y1="1254.26" x2="1042.05" y2="1291.31" stroke="#1c659e" stroke-width="1.15"/>
<rect x="1335.3" y="1042.1" width="6.8" height="257.9" fill="#000"/>
<polygon points="1341,1233 1403.5,1298.5 1341,1298.5" fill="#000"/>
<rect x="1335.3" y="1042.1" width="16.8" height="7.7" fill="#000"/>
<rect x="1352.1" y="1042.4" width="54.5" height="7.2" fill="#dcdcdc" stroke="#9a9a9a" stroke-width="0.6"/>
<rect x="1406.6" y="1042.1" width="165.7" height="7.7" fill="#000"/>
<rect x="1342.1" y="1090.1" width="81.7" height="7.7" fill="#000"/>
<rect x="1423.8" y="1042.1" width="7.1" height="102.2" fill="#000"/>
<polygon points="1423.8,1144 1430.9,1144 1430.9,1146.3 1427,1150.3 1422.3,1145.8" fill="#000"/>
<rect x="1342.1" y="1177.2" width="48.2" height="7.4" fill="#000"/>
<polygon points="1390.1,1177.2 1394.6,1180.6 1390.1,1184.6" fill="#000"/>
<polygon points="1393.95,1180.31 1426.65,1146.81 1423.35,1143.59 1390.65,1177.09" fill="#dcdcdc" stroke="#9a9a9a" stroke-width="0.6"/>
<rect x="1549.8" y="697.5" width="7" height="49.2" fill="#000"/>
<rect x="1626.9" y="697.5" width="7" height="49.2" fill="#000"/>
<rect x="1549.8" y="739" width="84.1" height="7.7" fill="#000"/>
<rect x="1550.2" y="746.7" width="84" height="21.9" fill="none" stroke="#111" stroke-width="1"/>
<rect x="1494" y="690.6" width="5.2" height="62.9" fill="#000"/>
<polygon points="1318.82,659.19 1388.72,728.89 1391.68,725.91 1321.78,656.21" fill="#dcdcdc" stroke="#9a9a9a" stroke-width="0.6"/>
<rect x="1100.4" y="1041.8" width="133.9" height="19.5" fill="#ababab"/>
<rect x="1234.3" y="1041.8" width="75.8" height="19.5" fill="#dcdcdc"/>
<rect x="1310.1" y="1041.8" width="25.2" height="19.5" fill="#ababab"/>
<line x1="1100.4" y1="1061.1" x2="1335.3" y2="1061.1" stroke="#9a9a9a" stroke-width="0.7"/>
<circle cx="1222.2" cy="1048.6" r="6.5" fill="#000"/>
<circle cx="1321.9" cy="1048.6" r="6.5" fill="#000"/>
<path d="M1197.6 887.8 L1230.5 915.6 L1230.5 1041.8" fill="none" stroke="#222" stroke-width="1"/>
<line x1="1104.9" y1="908.1" x2="1104.9" y2="1022.2" stroke="#444" stroke-width="0.8"/>
<line x1="1094.2" y1="908.1" x2="1094.2" y2="1022.2" stroke="#9a9a9a" stroke-width="0.6"/>
</g>
<g id="doors">
<line x1="993.6" y1="561" x2="1020.9" y2="514.2" stroke="#000" stroke-width="1.3"/>
<path d="M1020.9 514.2 A54.18 54.18 0 0 0 994.8 505.3" fill="none" stroke="#000" stroke-width="0.7"/>
<line x1="1211.2" y1="504.3" x2="1169" y2="494.3" stroke="#000" stroke-width="1.3"/>
<path d="M1169 494.3 A43.37 43.37 0 0 1 1176.8 474.7" fill="none" stroke="#000" stroke-width="0.7"/>
<line x1="1254.6" y1="599.6" x2="1211.2" y2="575.4" stroke="#000" stroke-width="1.3"/>
<path d="M1211.2 575.4 A49.69 49.69 0 0 0 1201.9 597.6" fill="none" stroke="#000" stroke-width="0.7"/>
<line x1="1191.6" y1="675.9" x2="1166.5" y2="631.8" stroke="#000" stroke-width="1.3"/>
<path d="M1166.5 631.8 A50.74 50.74 0 0 1 1189.2 623.6" fill="none" stroke="#000" stroke-width="0.7"/>
<line x1="1334.4" y1="546.6" x2="1309.3" y2="502.4" stroke="#000" stroke-width="1.3"/>
<path d="M1309.3 502.4 A50.83 50.83 0 0 1 1332.2 493.2" fill="none" stroke="#000" stroke-width="0.7"/>
<line x1="1320.5" y1="656.7" x2="1366.2" y2="669.3" stroke="#000" stroke-width="1.3"/>
<path d="M1366.2 669.3 A47.41 47.41 0 0 1 1355.7 691.3" fill="none" stroke="#000" stroke-width="0.7"/>
<line x1="1388.7" y1="725.9" x2="1377.1" y2="681.4" stroke="#000" stroke-width="1.3"/>
<path d="M1377.1 681.4 A45.99 45.99 0 0 0 1355.7 691.3" fill="none" stroke="#000" stroke-width="0.7"/>
<line x1="1546.8" y1="620.8" x2="1587.6" y2="597.8" stroke="#000" stroke-width="1.3"/>
<path d="M1587.6 597.8 A46.84 46.84 0 0 1 1596.7 618.7" fill="none" stroke="#000" stroke-width="0.7"/>
<line x1="1834.6" y1="695.9" x2="1880.9" y2="723.4" stroke="#000" stroke-width="1.3"/>
<path d="M1880.9 723.4 A53.85 53.85 0 0 0 1891 696.2" fill="none" stroke="#000" stroke-width="0.7"/>
<line x1="1253.4" y1="734.1" x2="1278.9" y2="778.3" stroke="#000" stroke-width="1.3"/>
<path d="M1278.9 778.3 A51.03 51.03 0 0 1 1254.6 786.4" fill="none" stroke="#000" stroke-width="0.7"/>
<line x1="1208" y1="872.8" x2="1221" y2="824.3" stroke="#000" stroke-width="1.3"/>
<path d="M1221 824.3 A50.21 50.21 0 0 1 1244.7 831.8" fill="none" stroke="#000" stroke-width="0.7"/>
<line x1="1099.8" y1="908.5" x2="1127.7" y2="955.3" stroke="#000" stroke-width="1.3"/>
<path d="M1127.7 955.3 A54.49 54.49 0 0 1 1099.2 965.4" fill="none" stroke="#000" stroke-width="0.7"/>
<line x1="1099.8" y1="1022.2" x2="1127.7" y2="974.8" stroke="#000" stroke-width="1.3"/>
<path d="M1127.7 974.8 A55 55 0 0 0 1099.2 965.4" fill="none" stroke="#000" stroke-width="0.7"/>
<line x1="1406.3" y1="1045.6" x2="1361.6" y2="1019.6" stroke="#000" stroke-width="1.3"/>
<path d="M1361.6 1019.6 A51.71 51.71 0 0 0 1352.1 1045.6" fill="none" stroke="#000" stroke-width="0.7"/>
<line x1="1423.8" y1="1145.2" x2="1412.6" y2="1187.6" stroke="#000" stroke-width="1.3"/>
<path d="M1412.6 1187.6 A43.85 43.85 0 0 1 1393.6 1180.7" fill="none" stroke="#000" stroke-width="0.7"/>
<line x1="1836.9" y1="1041.1" x2="1880.3" y2="1015.9" stroke="#000" stroke-width="1.3"/>
<path d="M1880.3 1015.9 A50.19 50.19 0 0 1 1889.2 1041.1" fill="none" stroke="#000" stroke-width="0.7"/>
</g>
<g id="arrows">
<polygon points="564.4,356.6 560.2,371.4 564.4,368 568.6,371.4" fill="#000"/>
<polygon points="564.3,837.2 568.5,822.4 564.3,825.8 560.1,822.4" fill="#000"/>
<polygon points="140,597 154.8,601.2 151.4,597 154.8,592.8" fill="#000"/>
<polygon points="988.9,597.2 974.1,593 977.5,597.2 974.1,601.4" fill="#000"/>
<polygon points="1160.7,423 1156.5,437.8 1160.7,434.4 1164.9,437.8" fill="#000"/>
<polygon points="1160.7,607.4 1164.9,592.6 1160.7,596 1156.5,592.6" fill="#000"/>
<polygon points="1000,531.6 1014.8,535.8 1011.4,531.6 1014.8,527.4" fill="#000"/>
<polygon points="1261.8,531.8 1247,527.6 1250.4,531.8 1247,536" fill="#000"/>
<polygon points="1060.5,580.7 1056.3,595.5 1060.5,592.1 1064.7,595.5" fill="#000"/>
<polygon points="1060.5,685.9 1064.7,671.1 1060.5,674.5 1056.3,671.1" fill="#000"/>
<polygon points="1000,634.2 1014.8,638.4 1011.4,634.2 1014.8,630" fill="#000"/>
<polygon points="1187.9,634.4 1173.1,630.2 1176.5,634.4 1173.1,638.6" fill="#000"/>
<polygon points="1411.5,390.2 1407.3,405 1411.5,401.6 1415.7,405" fill="#000"/>
<polygon points="1311.2,642.2 1315.4,627.4 1311.2,630.8 1307,627.4" fill="#000"/>
<polygon points="1269.6,508.8 1284.4,513 1281,508.8 1284.4,504.6" fill="#000"/>
<polygon points="1495.6,509 1480.8,504.8 1484.2,509 1480.8,513.2" fill="#000"/>
<polygon points="1570.8,419.5 1566.6,434.3 1570.8,430.9 1575,434.3" fill="#000"/>
<polygon points="1571,617.8 1575.2,603 1571,606.4 1566.8,603" fill="#000"/>
<polygon points="1502.7,519.1 1517.5,523.3 1514.1,519.1 1517.5,514.9" fill="#000"/>
<polygon points="1640.4,519.1 1625.6,514.9 1629,519.1 1625.6,523.3" fill="#000"/>
<polygon points="1792.3,419.5 1788.1,434.3 1792.3,430.9 1796.5,434.3" fill="#000"/>
<polygon points="1792.3,689.6 1796.5,674.8 1792.3,678.2 1788.1,674.8" fill="#000"/>
<polygon points="1647.5,554.6 1662.3,558.8 1658.9,554.6 1662.3,550.4" fill="#000"/>
<polygon points="1936.5,554.6 1921.7,550.4 1925.1,554.6 1921.7,558.8" fill="#000"/>
<polygon points="1943.4,667 1939.2,681.8 1943.4,678.4 1947.6,681.8" fill="#000"/>
<polygon points="1943.2,1074 1947.4,1059.2 1943.2,1062.6 1939,1059.2" fill="#000"/>
<polygon points="1822.6,870.2 1837.4,874.4 1834,870.2 1837.4,866" fill="#000"/>
<polygon points="2063.6,870.2 2048.8,866 2052.2,870.2 2048.8,874.4" fill="#000"/>
<polygon points="1759.6,699 1755.4,713.8 1759.6,710.4 1763.8,713.8" fill="#000"/>
<polygon points="1759.6,1040.8 1763.8,1026 1759.6,1029.4 1755.4,1026" fill="#000"/>
<polygon points="1500,755.8 1514.8,760 1511.4,755.8 1514.8,751.6" fill="#000"/>
<polygon points="1811,755.8 1796.2,751.6 1799.6,755.8 1796.2,760" fill="#000"/>
<polygon points="1761.3,1043.2 1757.1,1058 1761.3,1054.6 1765.5,1058" fill="#000"/>
<polygon points="1761.3,1296 1765.5,1281.2 1761.3,1284.6 1757.1,1281.2" fill="#000"/>
<polygon points="1706.3,1170.5 1721.1,1174.7 1717.7,1170.5 1721.1,1166.3" fill="#000"/>
<polygon points="1937.8,1170.5 1923,1166.3 1926.4,1170.5 1923,1174.7" fill="#000"/>
<polygon points="1620.6,1042.6 1616.4,1057.4 1620.6,1054 1624.8,1057.4" fill="#000"/>
<polygon points="1620.6,1296 1624.8,1281.2 1620.6,1284.6 1616.4,1281.2" fill="#000"/>
<polygon points="1343.2,1218.4 1358,1222.6 1354.6,1218.4 1358,1214.2" fill="#000"/>
<polygon points="1703.8,1218.4 1689,1214.2 1692.4,1218.4 1689,1222.6" fill="#000"/>
<polygon points="1080.9,1047 1076.7,1061.8 1080.9,1058.4 1085.1,1061.8" fill="#000"/>
<polygon points="1080.9,1296.4 1085.1,1281.6 1080.9,1285 1076.7,1281.6" fill="#000"/>
<polygon points="1001.8,1169.2 1016.6,1173.4 1013.2,1169.2 1016.6,1165" fill="#000"/>
<polygon points="1334.4,1169.2 1319.6,1165 1323,1169.2 1319.6,1173.4" fill="#000"/>
<polygon points="1101.5,695.2 1097.3,710 1101.5,706.6 1105.7,710" fill="#000"/>
<polygon points="1101.5,882.2 1105.7,867.4 1101.5,870.8 1097.3,867.4" fill="#000"/>
<polygon points="999.3,831.7 1014.1,835.9 1010.7,831.7 1014.1,827.5" fill="#000"/>
<polygon points="1244.9,831.8 1230.1,827.6 1233.5,831.8 1230.1,836" fill="#000"/>
<polygon points="1167.9,888.6 1164.1,901.6 1167.9,898.3 1171.7,901.6" fill="#000"/>
<polygon points="1168.5,1041.4 1172.3,1028.4 1168.5,1031.7 1164.7,1028.4" fill="#000"/>
<polygon points="1105.6,965.2 1120.6,969 1117.3,965.2 1120.6,961.4" fill="#000"/>
<polygon points="1230.1,964.8 1217.1,961 1220.4,964.8 1217.1,968.6" fill="#000"/>
</g>
<g id="labels">
<text x="564.2" y="584.1" font-size="16.5" text-anchor="middle">GARAGE</text>
<text x="564.2" y="602" font-size="16.5" text-anchor="middle">12.41m x 7.02m</text>
<text x="564.2" y="619.9" font-size="16.5" text-anchor="middle">86.3 m<tspan font-size="109%">²</tspan></text>
<text x="1092.9" y="484.2" font-size="16.5" text-anchor="middle">LAUNDRY</text>
<text x="1092.9" y="502.1" font-size="16.5" text-anchor="middle">3.85m x 2.71m</text>
<text x="1092.9" y="520" font-size="16.5" text-anchor="middle">7.8 m<tspan font-size="109%">²</tspan></text>
<text x="1069.6" y="630.3" font-size="16.5" text-anchor="middle">2PC BATH</text>
<text x="1069.6" y="648.2" font-size="16.5" text-anchor="middle">2.77m x 1.54m</text>
<text x="1069.6" y="666.1" font-size="16.5" text-anchor="middle">3.7 m<tspan font-size="109%">²</tspan></text>
<text x="1417" y="493.8" font-size="16.5" text-anchor="middle">5PC ENSUITE</text>
<text x="1417" y="511.7" font-size="16.5" text-anchor="middle">3.33m x 3.70m</text>
<text x="1417" y="529.6" font-size="16.5" text-anchor="middle">10.2 m<tspan font-size="109%">²</tspan></text>
<text x="1570.8" y="508.8" font-size="13.2" text-anchor="middle">WIC</text>
<text x="1570.8" y="522.9" font-size="13.2" text-anchor="middle">2.03m x 2.91m</text>
<text x="1570.8" y="537" font-size="13.2" text-anchor="middle">5.9 m<tspan font-size="109%">²</tspan></text>
<text x="1791.7" y="542.4" font-size="16.5" text-anchor="middle">PRIMARY</text>
<text x="1791.7" y="560.3" font-size="16.5" text-anchor="middle">4.24m x 3.96m</text>
<text x="1791.7" y="578.2" font-size="16.5" text-anchor="middle">16.5 m<tspan font-size="109%">²</tspan></text>
<text x="1107.5" y="754.7" font-size="16.5" text-anchor="middle">OFFICE</text>
<text x="1107.5" y="772.6" font-size="16.5" text-anchor="middle">3.62m x 2.76m</text>
<text x="1107.5" y="790.5" font-size="16.5" text-anchor="middle">8.7 m<tspan font-size="109%">²</tspan></text>
<text x="1166.5" y="957.4" font-size="13.2" text-anchor="middle">FOYER</text>
<text x="1166.5" y="971.5" font-size="13.2" text-anchor="middle">1.83m x 2.25m</text>
<text x="1166.5" y="985.6" font-size="13.2" text-anchor="middle">4.0 m<tspan font-size="109%">²</tspan></text>
<text x="1695.7" y="856" font-size="16.5" text-anchor="middle">FAMILY</text>
<text x="1695.7" y="873.9" font-size="16.5" text-anchor="middle">4.57m x 5.01m</text>
<text x="1695.7" y="891.8" font-size="16.5" text-anchor="middle">19.7 m<tspan font-size="109%">²</tspan></text>
<text x="1943.4" y="857.4" font-size="16.5" text-anchor="middle">SUN ROOM</text>
<text x="1943.4" y="875.3" font-size="16.5" text-anchor="middle">3.54m x 5.96m</text>
<text x="1943.4" y="893.2" font-size="16.5" text-anchor="middle">19.5 m<tspan font-size="109%">²</tspan></text>
<text x="1170.2" y="1166.1" font-size="16.5" text-anchor="middle">LIVING</text>
<text x="1170.2" y="1184" font-size="16.5" text-anchor="middle">4.88m x 3.67m</text>
<text x="1170.2" y="1201.9" font-size="16.5" text-anchor="middle">16.5 m<tspan font-size="109%">²</tspan></text>
<text x="1551.9" y="1160.9" font-size="16.5" text-anchor="middle">KITCHEN</text>
<text x="1551.9" y="1178.8" font-size="16.5" text-anchor="middle">5.29m x 3.72m</text>
<text x="1551.9" y="1196.7" font-size="16.5" text-anchor="middle">16.5 m<tspan font-size="109%">²</tspan></text>
<text x="1821.7" y="1155.9" font-size="16.5" text-anchor="middle">DINING</text>
<text x="1821.7" y="1173.8" font-size="16.5" text-anchor="middle">3.42m x 3.73m</text>
<text x="1821.7" y="1191.7" font-size="16.5" text-anchor="middle">12.3 m<tspan font-size="109%">²</tspan></text>
<text x="1223.9" y="466.4" font-size="16.5" text-anchor="middle">CLO</text>
<text x="1230.8" y="754.9" font-size="16.5" text-anchor="middle">CLO</text>
<text x="1404" y="677.9" font-size="16.5" text-anchor="middle">HALL</text>
<text x="1381.7" y="985.5" font-size="16.5" text-anchor="middle">HALL</text>
<text x="1595.5" y="719.2" font-size="16.5" text-anchor="middle">F/P</text>
<text x="1374.8" y="938.8" font-size="16.5" text-anchor="middle">DN</text>
<text x="1452.6" y="871.5" font-size="16.5" text-anchor="middle">OPEN</text>
<text x="1382.6" y="1074.9" font-size="16.5" text-anchor="middle">CL</text>
<text x="1377.4" y="1138.7" font-size="13.6" text-anchor="middle">PNTR</text>
</g>
</svg>
</body>
</html>
